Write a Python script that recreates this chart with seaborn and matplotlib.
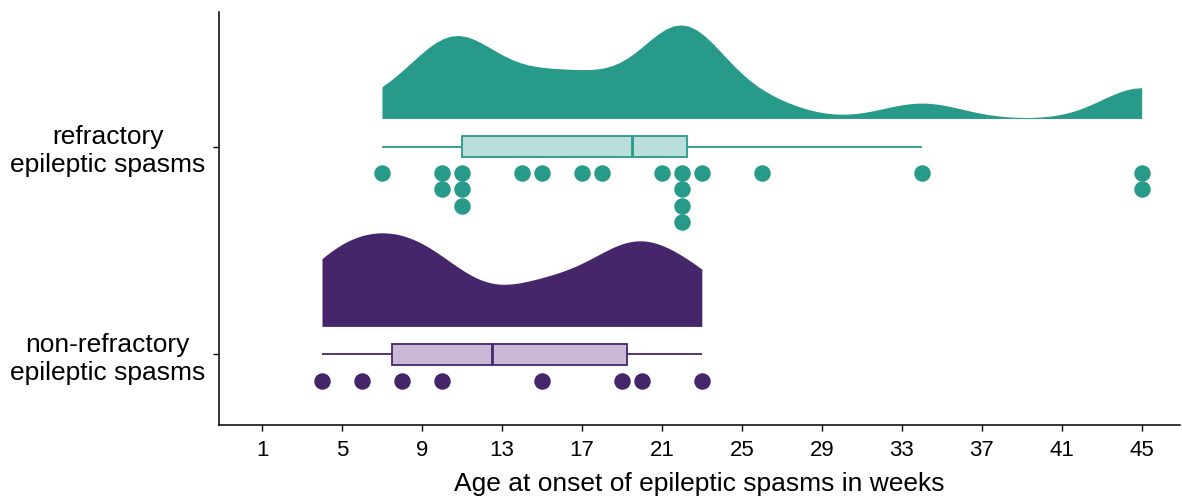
import numpy as np
import pandas as pd
import matplotlib
matplotlib.use("Agg")
import matplotlib.pyplot as plt
import seaborn as sns

# values (age at onset in weeks)
GROUP_LABELS = ["refractory\nepileptic spasms", "non-refractory\nepileptic spasms"]
REFRACTORY_AGES = [7, 10, 10, 11, 11, 11, 14, 15, 17, 18, 21, 22, 22, 22, 22, 23, 26, 34, 45, 45]
NON_REFRACTORY_AGES = [4, 6, 8, 10, 15, 19, 20, 23]
GROUP_COLORS = ["#279a8a", "#46266b"]
BOX_FILLS = ["#badfdb", "#c9b9d7"]
KDE_BANDWIDTHS = [2.0, 2.2]  # absolute bandwidth in weeks
X_TICKS = list(range(1, 46, 4))

CLOUD_HEIGHT = 0.45  # peak height of the half violin (category units)
CLOUD_GAP = 0.135    # distance between box centre and cloud base

sns.set_style("ticks")
plt.rcParams["font.family"] = ["Liberation Sans", "DejaVu Sans"]
plt.rcParams["text.color"] = "black"
plt.rcParams["axes.labelcolor"] = "black"

fig, ax = plt.subplots(figsize=(11.82, 4.97), dpi=100)
fig.subplots_adjust(left=0.1853, right=0.998, bottom=0.1449, top=0.9759)

all_ages = [REFRACTORY_AGES, NON_REFRACTORY_AGES]
for pos, (ages, color, fill, bw) in enumerate(zip(all_ages, GROUP_COLORS, BOX_FILLS, KDE_BANDWIDTHS)):
    ages = np.asarray(ages, dtype=float)
    df = pd.DataFrame({"age": ages, "pos": float(pos)})

    # cloud: split violin (one side only) spans the full width, base at its lower edge
    sns.violinplot(x=df["age"], y=df["pos"] - CLOUD_GAP - CLOUD_HEIGHT / 2,
                   orient="y", native_scale=True, split=True, inner=None, cut=0,
                   bw_method=bw / ages.std(ddof=1), density_norm="width",
                   width=CLOUD_HEIGHT, color=color, saturation=1, linewidth=0, ax=ax)

    # box without outliers / caps
    sns.boxplot(x=df["age"], y=df["pos"], orient="y", native_scale=True, width=0.103,
                showfliers=False, showcaps=False, color=fill, linecolor=color,
                linewidth=1.3, saturation=1, medianprops={"linewidth": 2}, ax=ax)

    # rain: dots stack downwards when ages repeat
    df["stack"] = df.groupby("age").cumcount()
    df["y_dot"] = df["pos"] + 0.128 + df["stack"] * 0.0785
    sns.scatterplot(data=df, x="age", y="y_dot", color=color, s=141, linewidth=0,
                    ax=ax, zorder=3)

ax.set_xlim(-1.15, 46.9)
ax.set_ylim(1.339, -0.647)
ax.set_xticks(X_TICKS)
ax.set_yticks([0, 1])
ax.set_yticklabels(GROUP_LABELS, fontsize=19, multialignment="center")
ax.tick_params(axis="x", labelsize=16, length=4, width=1, colors="black", pad=7)
ax.tick_params(axis="y", length=4, width=1, colors="black", pad=6)
ax.set_xlabel("Age at onset of epileptic spasms in weeks", fontsize=19, labelpad=8)
ax.set_ylabel("")
sns.despine(ax=ax)
for side in ["left", "bottom"]:
    ax.spines[side].set_linewidth(1.1)
    ax.spines[side].set_color("black")

fig.savefig("out.png", dpi=100)
